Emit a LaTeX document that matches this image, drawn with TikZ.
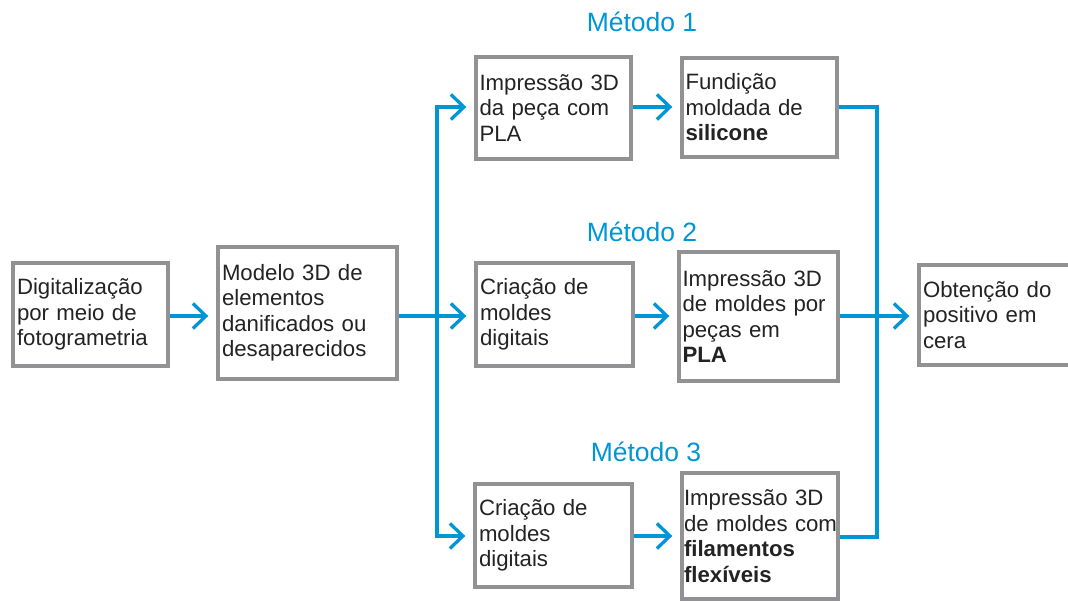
\documentclass[tikz,border=0pt]{standalone}
\usepackage{fontspec}
\setmainfont{Liberation Sans}
\usetikzlibrary{arrows.meta}
\definecolor{flowblue}{RGB}{0,150,214}
\definecolor{boxgray}{RGB}{146,146,148}
\definecolor{txt}{RGB}{35,35,35}
\hfuzz=20pt
\begin{document}
\begin{tikzpicture}[x=1pt,y=-1pt,
  box/.style={draw=boxgray, line width=3.4pt, fill=white, inner xsep=4pt, inner ysep=0pt,
    align=left, text=txt, font=\fontsize{22.2}{25.5}\selectfont},
  tip/.tip={Straight Barb[length=13pt,width=25pt]},
  flow/.style={draw=flowblue, line width=3.3pt, -tip, shorten >=8pt},
  flowboth/.style={draw=flowblue, line width=3.3pt, tip-tip, shorten >=8pt, shorten <=8pt},
  plain/.style={draw=flowblue, line width=3.3pt},
  title/.style={text=flowblue, font=\fontsize{26.5}{30}\selectfont}]
\useasboundingbox (0,0) rectangle (1068,601);
\fill[white] (0,0) rectangle (1068,601);

\node[box, minimum width=155pt, minimum height=103pt, text width=147pt] (A) at (90.5,314.5)
  {Digitalização\\por meio de\\fotogrametria};
\node[box, minimum width=179pt, minimum height=132pt, text width=171pt] (B) at (307.5,313)
  {Modelo 3D de\\elementos\\danificados ou\\desaparecidos\\[6pt]};
\node[box, minimum width=155pt, minimum height=102pt, text width=148pt, inner xsep=3.5pt] (M1a) at (553.5,108)
  {Impressão 3D\\da peça com\\PLA\\[-3pt]};
\node[box, minimum width=155pt, minimum height=99pt, text width=148pt, inner xsep=3.5pt] (M1b) at (759.5,107.5)
  {Fundição\\moldada de\\\textbf{silicone}\\[-3pt]};
\node[box, minimum width=157pt, minimum height=103pt, text width=149pt] (M2a) at (554.5,314.5)
  {Criação de\\moldes\\digitais};
\node[box, minimum width=159pt, minimum height=129pt, text width=152pt, inner xsep=3.5pt] (M2b) at (758.5,316.5)
  {Impressão 3D\\de moldes por\\peças em\\\textbf{PLA}};
\node[box, minimum width=157pt, minimum height=103pt, text width=149pt] (M3a) at (553.5,535.5)
  {Criação de\\moldes\\digitais};
\node[box, minimum width=156pt, minimum height=126pt, text width=152pt, inner xsep=2pt] (M3b) at (760,536)
  {Impressão 3D\\\mbox{de moldes com}\\\textbf{filamentos}\\\textbf{flexíveis}};
\node[box, minimum width=162pt, minimum height=100pt, text width=154pt] (F) at (1000,315)
  {Obtenção do\\positivo em\\cera};

\node[title] (T1) at (642,22) {Método 1};
\node[title] (T2) at (642,232) {Método 2};
\node[title] (T3) at (646,452) {Método 3};

\coordinate (jl) at (437,316);
\coordinate (jr) at (877,316);

\draw[flow] (A.east |- jl) -- (B.west |- jl);
\draw[flow] (B.east |- jl) -- (M2a.west |- jl);
\draw[flowboth] (M1a.west |- 0,107) -| (jl) |- (M3a.west |- 0,536);
\draw[flow] (M1a.east |- 0,107) -- (M1b.west |- 0,107);
\draw[flow] (M2a.east |- jr) -- (M2b.west |- jr);
\draw[flow] (M3a.east |- 0,536) -- (M3b.west |- 0,536);
\draw[plain] (M1b.east |- 0,107) -| (jr) |- (M3b.east |- 0,537);
\draw[flow] (M2b.east |- jr) -- (F.west |- jr);
\end{tikzpicture}
\end{document}
